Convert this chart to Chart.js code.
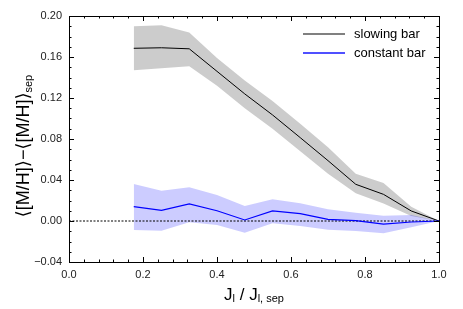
<!DOCTYPE html>
<html>
<head>
<meta charset="utf-8">
<script src="https://cdn.jsdelivr.net/npm/chart.js@4"></script>
<style>
  html, body { margin: 0; padding: 0; background: #fff; }
  #wrap { width: 463px; height: 309px; }
</style>
</head>
<body>
<div id="wrap"><canvas id="chart" width="463" height="309"></canvas></div>
<script>
// ---------------- DATA ----------------
const jValues = [0.175, 0.25, 0.325, 0.4, 0.475, 0.55, 0.625, 0.7, 0.775, 0.85, 0.925, 1.0];

const slowingMean  = [0.1685, 0.169, 0.168, 0.146, 0.124, 0.1035, 0.0813, 0.0589, 0.0358, 0.026, 0.0098, 0];
const slowingUpper = [0.190, 0.191, 0.184, 0.159, 0.137, 0.117, 0.095, 0.072, 0.046, 0.037, 0.014, 0];
const slowingLower = [0.147, 0.149, 0.151, 0.132, 0.110, 0.090, 0.068, 0.046, 0.027, 0.017, 0.005, 0];

const constantMean  = [0.014, 0.0104, 0.0166, 0.010, 0.001, 0.0098, 0.0072, 0.0016, 0.0003, -0.003, -0.001, 0];
const constantUpper = [0.036, 0.0296, 0.033, 0.0254, 0.0147, 0.0212, 0.0173, 0.0114, 0.0081, 0.0052, 0.0059, 0];
const constantLower = [-0.0088, -0.0095, -0.0013, -0.004, -0.0114, -0.0023, -0.0049, -0.0085, -0.0098, -0.012, -0.0062, 0];

const zeroX = [0, 1];
const zeroY = [0, 0];

const legendLabels = ["slowing bar", "constant bar"];
const legendColors = ["#808080", "#5050ff"];

const FONT = "'Liberation Sans', 'DejaVu Sans', sans-serif";

function pts(xs, ys) {
  return xs.map((x, i) => ({ x: x, y: ys[i] }));
}

// ---------------- PLUGINS ----------------
// frame + inward ticks on all four sides
const framePlugin = {
  id: "frame",
  afterDatasetsDraw(chart) {
    const ctx = chart.ctx;
    const a = chart.chartArea;
    const xs = chart.scales.x;
    const ys = chart.scales.y;
    ctx.save();
    ctx.strokeStyle = "#000";
    ctx.lineWidth = 1;
    ctx.strokeRect(Math.round(a.left) + 0.5, Math.round(a.top) + 0.5,
      Math.round(a.right - a.left), Math.round(a.bottom - a.top));

    ctx.beginPath();
    // x ticks
    for (let i = 0; i <= 25; i++) {
      const v = i * 0.04;
      const px = Math.round(xs.getPixelForValue(v)) + 0.5;
      const len = (i % 5 === 0) ? 5 : 2.5;
      ctx.moveTo(px, a.bottom); ctx.lineTo(px, a.bottom - len);
      ctx.moveTo(px, a.top); ctx.lineTo(px, a.top + len);
    }
    // y ticks
    for (let i = -4; i <= 20; i++) {
      const v = i * 0.01;
      const py = Math.round(ys.getPixelForValue(v)) + 0.5;
      const len = (i % 4 === 0) ? 5 : 2.5;
      ctx.moveTo(a.left, py); ctx.lineTo(a.left + len, py);
      ctx.moveTo(a.right, py); ctx.lineTo(a.right - len, py);
    }
    ctx.stroke();
    ctx.restore();
  }
};

// legend inside the plot + axis titles with subscripts
const labelPlugin = {
  id: "labels",
  afterDraw(chart) {
    const ctx = chart.ctx;
    const a = chart.chartArea;
    ctx.save();

    // legend
    ctx.font = "13px " + FONT;
    ctx.textBaseline = "middle";
    ctx.fillStyle = "#000";
    legendLabels.forEach((lab, i) => {
      const y = 34 + i * 19;
      ctx.strokeStyle = legendColors[i];
      ctx.lineWidth = 2;
      ctx.beginPath();
      ctx.moveTo(303, y); ctx.lineTo(345, y);
      ctx.stroke();
      ctx.fillText(lab, 354, y);
    });

    // x title: J_l / J_l,sep
    const big = "17px " + FONT;
    const small = "11px " + FONT;
    const xParts = [
      ["J", big, 0], ["l", small, 4], [" / ", big, 0], ["J", big, 0], ["l, sep", small, 4]
    ];
    drawParts(ctx, xParts, (a.left + a.right) / 2, 295);

    // y title: <[M/H]> - <[M/H]>_sep
    const yBig = "18px " + FONT;
    ctx.translate(24, 146);
    ctx.rotate(-Math.PI / 2);
    const yParts = [
      ["\u27E8[M/H]\u27E9\u2212\u27E8[M/H]\u27E9", yBig, 0], ["sep", small, 5]
    ];
    drawParts(ctx, yParts, 0, 0);

    ctx.restore();
  }
};

function drawParts(ctx, parts, cx, cy) {
  let total = 0;
  parts.forEach(p => { ctx.font = p[1]; total += ctx.measureText(p[0]).width; });
  let x = cx - total / 2;
  ctx.textBaseline = "middle";
  ctx.textAlign = "left";
  ctx.fillStyle = "#000";
  parts.forEach(p => {
    ctx.font = p[1];
    ctx.fillText(p[0], x, cy + p[2]);
    x += ctx.measureText(p[0]).width;
  });
}

// ---------------- CHART ----------------
const ctx = document.getElementById("chart");

new Chart(ctx, {
  type: "line",
  data: {
    datasets: [
      { data: pts(jValues, constantMean), borderColor: "#0000ff", borderWidth: 1.2, pointRadius: 0, fill: false, tension: 0 },
      { data: pts(jValues, slowingMean), borderColor: "#000000", borderWidth: 1, pointRadius: 0, fill: false, tension: 0 },
      { data: pts(zeroX, zeroY), borderColor: "#000000", borderWidth: 1, borderDash: [2, 1.5], pointRadius: 0, fill: false },
      { data: pts(jValues, constantUpper), borderWidth: 0, borderColor: "rgba(0,0,0,0)", pointRadius: 0, fill: "+1", backgroundColor: "rgba(0,0,255,0.2)" },
      { data: pts(jValues, constantLower), borderWidth: 0, borderColor: "rgba(0,0,0,0)", pointRadius: 0, fill: false },
      { data: pts(jValues, slowingUpper), borderWidth: 0, borderColor: "rgba(0,0,0,0)", pointRadius: 0, fill: "+1", backgroundColor: "rgba(0,0,0,0.2)" },
      { data: pts(jValues, slowingLower), borderWidth: 0, borderColor: "rgba(0,0,0,0)", pointRadius: 0, fill: false }
    ]
  },
  options: {
    responsive: false,
    animation: false,
    layout: { padding: { left: 0, right: 24, top: 16, bottom: 0 } },
    plugins: {
      legend: { display: false },
      tooltip: { enabled: false }
    },
    scales: {
      x: {
        type: "linear",
        min: 0, max: 1,
        grid: { display: false, drawTicks: false },
        border: { display: false },
        afterFit(scale) { scale.height = 47; },
        ticks: {
          stepSize: 0.2,
          padding: 6,
          color: "#222",
          font: { family: FONT, size: 11 },
          callback: v => v.toFixed(1)
        }
      },
      y: {
        min: -0.04, max: 0.20,
        grid: { display: false, drawTicks: false },
        border: { display: false },
        afterFit(scale) { scale.width = 69; },
        ticks: {
          stepSize: 0.04,
          padding: 7,
          color: "#222",
          font: { family: FONT, size: 11 },
          callback: v => v.toFixed(2).replace("-", "\u2212")
        }
      }
    }
  },
  plugins: [framePlugin, labelPlugin]
});
</script>
</body>
</html>
